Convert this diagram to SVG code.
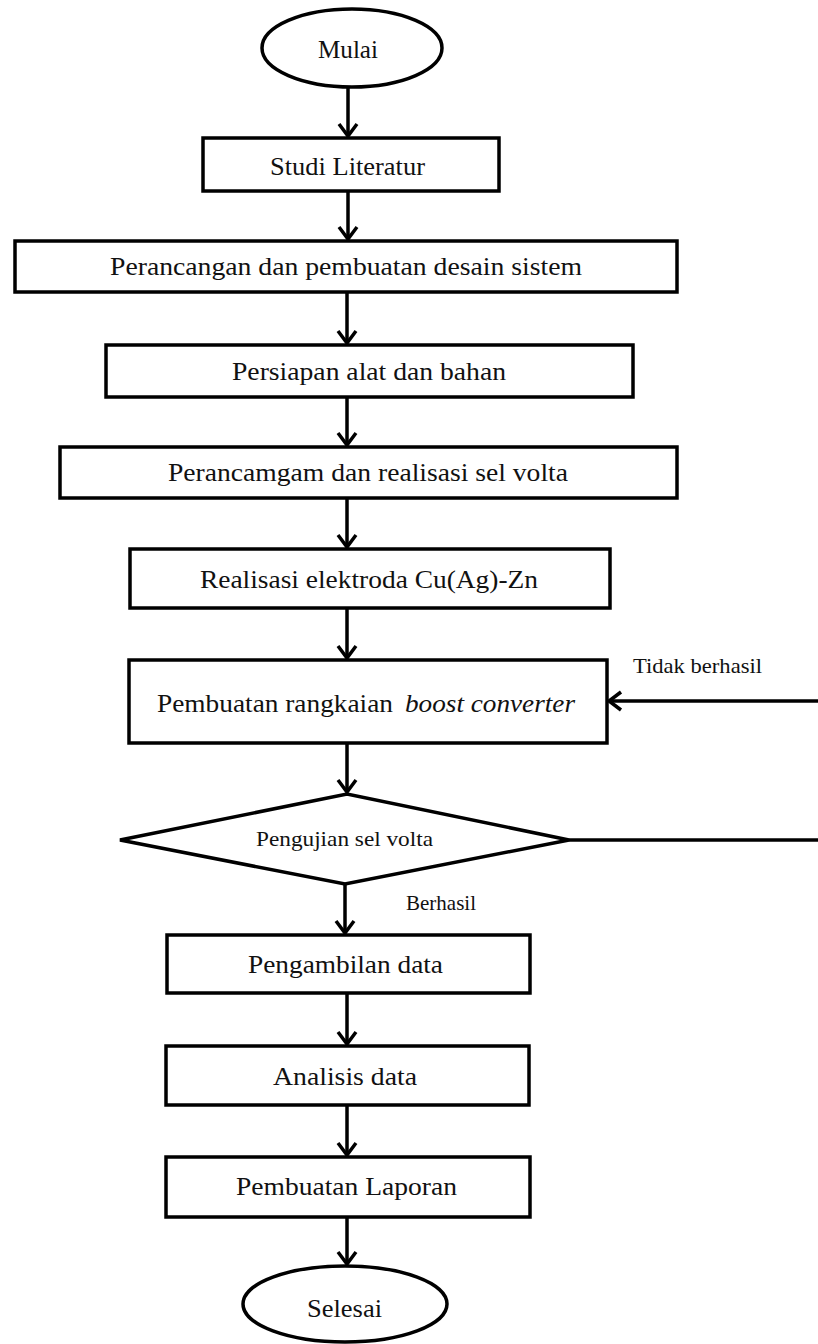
<svg xmlns="http://www.w3.org/2000/svg" width="818" height="1344" viewBox="0 0 818 1344">
<style>
.shape{fill:#fff;stroke:#000;stroke-width:3.5}
.t{font-family:"Liberation Serif","Times New Roman",serif;font-size:25px;fill:#111}
.s{font-family:"Liberation Serif","Times New Roman",serif;font-size:21px;fill:#111}
.c{fill:none;stroke:#000;stroke-width:3.5}
</style>
<defs>
<marker id="ah" markerUnits="userSpaceOnUse" markerWidth="24" markerHeight="24" refX="14" refY="10" orient="auto" overflow="visible">
<path d="M2,1 L14,10 L2,19" fill="none" stroke="#000" stroke-width="3.5"/>
</marker>
</defs>
<rect width="818" height="1344" fill="#fff"/>
<g id="connectors">
<line class="c" x1="348" y1="88" x2="348" y2="136" marker-end="url(#ah)"/>
<line class="c" x1="348" y1="191" x2="348" y2="239" marker-end="url(#ah)"/>
<line class="c" x1="347" y1="292" x2="347" y2="343" marker-end="url(#ah)"/>
<line class="c" x1="347" y1="397" x2="347" y2="445" marker-end="url(#ah)"/>
<line class="c" x1="347" y1="498" x2="347" y2="547" marker-end="url(#ah)"/>
<line class="c" x1="347" y1="608" x2="347" y2="658" marker-end="url(#ah)"/>
<line class="c" x1="347" y1="743" x2="347" y2="792" marker-end="url(#ah)"/>
<line class="c" x1="345" y1="884" x2="345" y2="933" marker-end="url(#ah)"/>
<line class="c" x1="347" y1="993" x2="347" y2="1044" marker-end="url(#ah)"/>
<line class="c" x1="347" y1="1105" x2="347" y2="1155" marker-end="url(#ah)"/>
<line class="c" x1="347" y1="1217" x2="347" y2="1264" marker-end="url(#ah)"/>
<line class="c" x1="569" y1="840" x2="818" y2="840"/>
<line class="c" x1="818" y1="701" x2="609" y2="701" marker-end="url(#ah)"/>
<text class="s" x="633" y="673" textLength="129" lengthAdjust="spacingAndGlyphs">Tidak  berhasil</text>
<text class="s" x="406" y="910" textLength="70" lengthAdjust="spacingAndGlyphs">Berhasil</text>
</g>
<g id="mulai">
<ellipse class="shape" cx="352" cy="48" rx="90" ry="39"/>
<text class="t" x="318" y="58" textLength="60" lengthAdjust="spacingAndGlyphs">Mulai</text>
</g>
<g id="studi">
<rect class="shape" x="203" y="138" width="296" height="53" stroke-width="4"/>
<text class="t" x="270" y="175" textLength="155" lengthAdjust="spacingAndGlyphs">Studi Literatur</text>
</g>
<g id="perancangan">
<rect class="shape" x="15" y="241" width="662" height="51" stroke-width="3"/>
<text class="t" x="110" y="275" textLength="472" lengthAdjust="spacingAndGlyphs">Perancangan dan pembuatan desain sistem</text>
</g>
<g id="persiapan">
<rect class="shape" x="106" y="345" width="527" height="52" stroke-width="3"/>
<text class="t" x="232" y="380" textLength="274" lengthAdjust="spacingAndGlyphs">Persiapan alat  dan bahan</text>
</g>
<g id="perancamgam">
<rect class="shape" x="60" y="447" width="617" height="51" stroke-width="3"/>
<text class="t" x="168" y="481" textLength="400" lengthAdjust="spacingAndGlyphs">Perancamgam dan realisasi  sel volta</text>
</g>
<g id="realisasi">
<rect class="shape" x="130" y="549" width="480" height="59"/>
<text class="t" x="200" y="588" textLength="338" lengthAdjust="spacingAndGlyphs">Realisasi  elektroda Cu(Ag)-Zn</text>
</g>
<g id="pembuatan">
<rect class="shape" x="129" y="660" width="478" height="83"/>
<text class="t" y="712"><tspan x="157" textLength="236" lengthAdjust="spacingAndGlyphs">Pembuatan rangkaian</tspan><tspan x="405" textLength="170" lengthAdjust="spacingAndGlyphs" font-style="italic">boost converter</tspan></text>
</g>
<g id="pengujian">
<polygon class="shape" points="120,840 347,794 569,840 345,884"/>
<text class="s" x="256" y="846" font-size="20" textLength="177" lengthAdjust="spacingAndGlyphs">Pengujian  sel volta</text>
</g>
<g id="pengambilan">
<rect class="shape" x="167" y="935" width="363" height="58"/>
<text class="t" x="248" y="973" textLength="195" lengthAdjust="spacingAndGlyphs">Pengambilan  data</text>
</g>
<g id="analisis">
<rect class="shape" x="166" y="1046" width="363" height="59"/>
<text class="t" x="273" y="1085" textLength="144" lengthAdjust="spacingAndGlyphs">Analisis  data</text>
</g>
<g id="laporan">
<rect class="shape" x="166" y="1157" width="364" height="60"/>
<text class="t" x="236" y="1195" textLength="221" lengthAdjust="spacingAndGlyphs">Pembuatan Laporan</text>
</g>
<g id="selesai">
<ellipse class="shape" cx="345" cy="1304" rx="102" ry="38"/>
<text class="t" x="307" y="1317" textLength="75" lengthAdjust="spacingAndGlyphs">Selesai</text>
</g>
</svg>
